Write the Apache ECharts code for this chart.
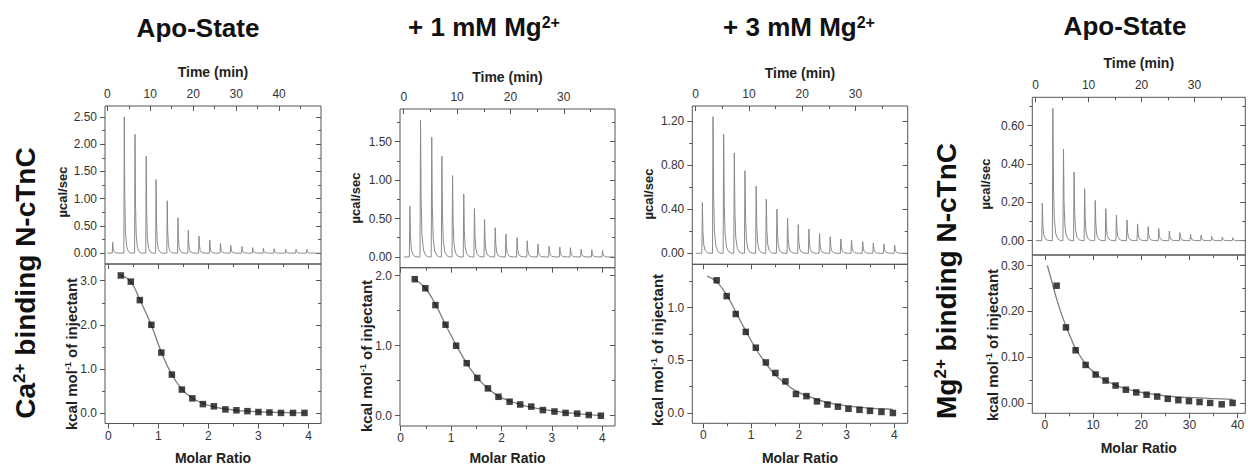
<!DOCTYPE html>
<html>
<head>
<meta charset="utf-8">
<script src="https://cdn.jsdelivr.net/npm/echarts@6/dist/echarts.min.js"></script>
<style>html,body{margin:0;padding:0;background:#fff}#c{width:1248px;height:467px}</style>
</head>
<body>
<div id="c"></div>
<script>
// ================= DATA =================
const panelTitles = ['Apo-State', '+ 1 mM Mg{s|2+}', '+ 3 mM Mg{s|2+}', 'Apo-State'];
const sideLabels = ['Ca{s|2+} binding N-cTnC', 'Mg{s|2+} binding N-cTnC'];
const rawAxisName = 'µcal/sec';
const heatAxisName = 'kcal mol{s|-1} of injectant';
const timeAxisName = 'Time (min)';
const ratioAxisName = 'Molar Ratio';

// Panel 1 : Ca2+ binding, apo state
const p1InjTime = [1.2, 3.9, 6.4, 9.0, 11.3, 13.9, 16.4, 18.8, 21.3, 23.8, 26.3, 28.7, 31.3, 33.8, 36.3, 38.8, 41.5, 43.9, 46.4];
const p1InjPeak = [0.20, 2.50, 2.18, 1.78, 1.35, 0.96, 0.65, 0.42, 0.31, 0.24, 0.18, 0.14, 0.12, 0.10, 0.09, 0.08, 0.07, 0.07, 0.07];
const p1Ratio = [0.25, 0.45, 0.63, 0.86, 1.06, 1.27, 1.47, 1.68, 1.89, 2.11, 2.34, 2.56, 2.78, 3.00, 3.22, 3.45, 3.69, 3.92];
const p1Heat  = [3.12, 2.98, 2.56, 2.00, 1.37, 0.87, 0.53, 0.33, 0.20, 0.15, 0.08, 0.06, 0.04, 0.02, 0.01, 0.00, 0.00, 0.00];
const p1FitRatio = [0.25, 0.45, 0.63, 0.86, 1.06, 1.27, 1.47, 1.68, 1.89, 2.11, 2.34, 2.56, 2.78, 3.00, 3.22, 3.45, 3.69, 3.92];
const p1FitHeat  = [3.12, 2.97, 2.57, 1.99, 1.38, 0.87, 0.54, 0.34, 0.22, 0.14, 0.09, 0.06, 0.04, 0.025, 0.015, 0.01, 0.005, 0.00];
const p1TimeTicks = [0, 10, 20, 30, 40],        p1TimeMinor = [5, 15, 25, 35, 45];
const p1PowerTicks = [0, 0.5, 1, 1.5, 2, 2.5],  p1PowerMinor = [0.25, 0.75, 1.25, 1.75, 2.25];
const p1RatioTicks = [0, 1, 2, 3, 4],           p1RatioMinor = [0.5, 1.5, 2.5, 3.5];
const p1HeatTicks = [0, 1, 2, 3],               p1HeatMinor = [0.5, 1.5, 2.5];

// Panel 2 : + 1 mM Mg2+
const p2InjTime = [1.1, 3.1, 5.2, 7.1, 9.1, 11.2, 13.2, 15.1, 17.1, 19.1, 21.2, 23.1, 25.1, 27.2, 29.2, 31.2, 33.2, 35.2, 37.2];
const p2InjPeak = [0.66, 1.78, 1.56, 1.31, 1.06, 0.82, 0.63, 0.49, 0.38, 0.30, 0.25, 0.21, 0.17, 0.14, 0.13, 0.12, 0.10, 0.095, 0.087];
const p2Ratio = [0.28, 0.49, 0.69, 0.89, 1.10, 1.31, 1.52, 1.73, 1.94, 2.16, 2.37, 2.59, 2.82, 3.05, 3.27, 3.50, 3.73, 3.97];
const p2Heat  = [1.95, 1.82, 1.58, 1.30, 1.00, 0.75, 0.54, 0.39, 0.27, 0.20, 0.16, 0.13, 0.08, 0.06, 0.04, 0.03, 0.01, 0.00];
const p2FitRatio = [0.28, 0.49, 0.69, 0.89, 1.10, 1.31, 1.52, 1.73, 1.94, 2.16, 2.37, 2.59, 2.82, 3.05, 3.27, 3.50, 3.73, 3.97];
const p2FitHeat  = [1.95, 1.82, 1.59, 1.30, 1.01, 0.75, 0.54, 0.39, 0.28, 0.21, 0.16, 0.12, 0.09, 0.065, 0.045, 0.03, 0.015, 0.005];
const p2TimeTicks = [0, 10, 20, 30],            p2TimeMinor = [5, 15, 25, 35];
const p2PowerTicks = [0, 0.5, 1, 1.5],          p2PowerMinor = [0.25, 0.75, 1.25, 1.75];
const p2RatioTicks = [0, 1, 2, 3, 4],           p2RatioMinor = [0.5, 1.5, 2.5, 3.5];
const p2HeatTicks = [0, 1, 2],                  p2HeatMinor = [0.5, 1.5];

// Panel 3 : + 3 mM Mg2+
const p3InjTime = [1.2, 3.2, 5.2, 7.2, 9.2, 11.3, 13.2, 15.2, 17.2, 19.2, 21.2, 23.2, 25.2, 27.2, 29.2, 31.3, 33.3, 35.3, 37.3];
const p3InjPeak = [0.46, 1.24, 1.08, 0.91, 0.75, 0.61, 0.49, 0.40, 0.32, 0.26, 0.22, 0.18, 0.15, 0.13, 0.12, 0.105, 0.095, 0.085, 0.075];
const p3Ratio = [0.28, 0.49, 0.68, 0.89, 1.10, 1.31, 1.51, 1.72, 1.94, 2.16, 2.38, 2.60, 2.82, 3.04, 3.27, 3.49, 3.73, 3.97];
const p3Heat  = [1.26, 1.11, 0.94, 0.77, 0.62, 0.48, 0.38, 0.30, 0.18, 0.16, 0.11, 0.08, 0.06, 0.04, 0.03, 0.02, 0.01, 0.00];
const p3FitRatio = [0.08, 0.28, 0.49, 0.68, 0.89, 1.10, 1.31, 1.51, 1.72, 1.94, 2.16, 2.38, 2.60, 2.82, 3.04, 3.27, 3.49, 3.73, 3.97];
const p3FitHeat  = [1.30, 1.245, 1.12, 0.96, 0.78, 0.61, 0.47, 0.36, 0.28, 0.21, 0.165, 0.13, 0.10, 0.08, 0.065, 0.055, 0.045, 0.04, 0.033];
const p3TimeTicks = [0, 10, 20, 30],            p3TimeMinor = [5, 15, 25, 35];
const p3PowerTicks = [0, 0.4, 0.8, 1.2],        p3PowerMinor = [0.2, 0.6, 1.0];
const p3RatioTicks = [0, 1, 2, 3, 4],           p3RatioMinor = [0.5, 1.5, 2.5, 3.5];
const p3HeatTicks = [0, 0.5, 1.0],              p3HeatMinor = [0.25, 0.75, 1.25];

// Panel 4 : Mg2+ binding, apo state
const p4InjTime = [1.2, 3.2, 5.2, 7.2, 9.2, 11.2, 13.2, 15.2, 17.2, 19.2, 21.2, 23.2, 25.2, 27.2, 29.2, 31.2, 33.2, 35.2, 37.2];
const p4InjPeak = [0.195, 0.69, 0.478, 0.357, 0.271, 0.21, 0.167, 0.134, 0.108, 0.087, 0.073, 0.063, 0.05, 0.042, 0.035, 0.028, 0.022, 0.018, 0.015];
const p4Ratio = [2.42, 4.36, 6.37, 8.44, 10.52, 12.6, 14.67, 16.8, 18.96, 21.1, 23.3, 25.5, 27.7, 29.9, 32.1, 34.3, 36.7, 38.96];
const p4Heat  = [0.256, 0.165, 0.115, 0.083, 0.062, 0.049, 0.038, 0.029, 0.023, 0.018, 0.014, 0.009, 0.006, 0.004, 0.002, 0.000, -0.003, 0.000];
const p4FitRatio = [0.5, 1.5, 2.4, 3.4, 4.4, 5.4, 6.4, 8.4, 10.5, 12.6, 14.7, 16.8, 19.0, 21.1, 23.3, 25.5, 27.7, 29.9, 32.1, 34.3, 36.7, 39.0];
const p4FitHeat  = [0.30, 0.262, 0.228, 0.195, 0.167, 0.141, 0.118, 0.086, 0.064, 0.049, 0.039, 0.031, 0.025, 0.021, 0.018, 0.015, 0.013, 0.012, 0.011, 0.010, 0.009, 0.008];
const p4TimeTicks = [0, 10, 20, 30],            p4TimeMinor = [5, 15, 25, 35];
const p4PowerTicks = [0, 0.2, 0.4, 0.6],        p4PowerMinor = [0.1, 0.3, 0.5, 0.7];
const p4RatioTicks = [0, 10, 20, 30, 40],       p4RatioMinor = [5, 15, 25, 35];
const p4HeatTicks = [0, 0.1, 0.2, 0.3],         p4HeatMinor = [0.05, 0.15, 0.25];

// ================= LAYOUT / BUILD =================
const FONT = 'Liberation Sans, Arial, sans-serif';
const BOX = '#555';

const panels = [
  { time: p1InjTime, peak: p1InjPeak, ratio: p1Ratio, heat: p1Heat, fitR: p1FitRatio, fitH: p1FitHeat,
    tT: p1TimeTicks, tM: p1TimeMinor, pT: p1PowerTicks, pM: p1PowerMinor, rT: p1RatioTicks, rM: p1RatioMinor, hT: p1HeatTicks, hM: p1HeatMinor,
    pDec: 2, hDec: 1, tEnd: 49.5,
    box: { left: 105, width: 216, top: 106, mid: 264, bottom: 423.5 },
    rng: { t: [-0.54, 49.75], p: [-0.2, 2.7], r: [-0.066, 4.25], h: [-0.24, 3.38] },
    title: [198, 28], rawName: [62, 192], heatName: [71, 354], tGap: 27, rGap: 27.5 },
  { time: p2InjTime, peak: p2InjPeak, ratio: p2Ratio, heat: p2Heat, fitR: p2FitRatio, fitH: p2FitHeat,
    tT: p2TimeTicks, tM: p2TimeMinor, pT: p2PowerTicks, pM: p2PowerMinor, rT: p2RatioTicks, rM: p2RatioMinor, hT: p2HeatTicks, hM: p2HeatMinor,
    pDec: 2, hDec: 1, tEnd: 39.4,
    box: { left: 400, width: 215, top: 109, mid: 267.7, bottom: 426 },
    rng: { t: [-0.7, 39.6], p: [-0.14, 1.926], r: [-0.013, 4.25], h: [-0.147, 2.114] },
    title: [484, 27], rawName: [355, 198], heatName: [366, 356], tGap: 25, rGap: 25 },
  { time: p3InjTime, peak: p3InjPeak, ratio: p3Ratio, heat: p3Heat, fitR: p3FitRatio, fitH: p3FitHeat,
    tT: p3TimeTicks, tM: p3TimeMinor, pT: p3PowerTicks, pM: p3PowerMinor, rT: p3RatioTicks, rM: p3RatioMinor, hT: p3HeatTicks, hM: p3HeatMinor,
    pDec: 2, hDec: 1, tEnd: 39.6,
    box: { left: 692.3, width: 215.4, top: 106, mid: 264.3, bottom: 423.3 },
    rng: { t: [-0.64, 39.8], p: [-0.1, 1.336], r: [-0.23, 4.28], h: [-0.098, 1.412] },
    title: [799, 27], rawName: [648, 194], heatName: [657, 350], tGap: 26, rGap: 27.5 },
  { time: p4InjTime, peak: p4InjPeak, ratio: p4Ratio, heat: p4Heat, fitR: p4FitRatio, fitH: p4FitHeat,
    tT: p4TimeTicks, tM: p4TimeMinor, pT: p4PowerTicks, pM: p4PowerMinor, rT: p4RatioTicks, rM: p4RatioMinor, hT: p4HeatTicks, hM: p4HeatMinor,
    pDec: 2, hDec: 2, tEnd: 39.4,
    box: { left: 1032.3, width: 213, top: 97.3, mid: 255, bottom: 413.3 },
    rng: { t: [-0.64, 39.6], p: [-0.075, 0.748], r: [-2.63, 41.6], h: [-0.0226, 0.323] },
    title: [1125, 26], rawName: [985, 184], heatName: [992, 345], tGap: 27, rGap: 28 }
];

// raw thermogram trace: each injection drawn as a sharp spike from its read peak value
function rawTrace(times, peaks, tEnd) {
  const d = [[0, 0]];
  for (let i = 0; i < times.length; i++) {
    const t = times[i], h = peaks[i];
    d.push([t - 0.05, 0], [t + 0.05, h], [t + 0.16, h * 0.42], [t + 0.32, h * 0.16],
           [t + 0.6, h * 0.05], [t + 1.0, h * 0.012], [t + 1.5, 0]);
  }
  d.push([tEnd, 0]);
  return d;
}
function pairs(xs, ys) { return xs.map((x, i) => [x, ys[i]]); }

const grids = [], xAxes = [], yAxes = [], series = [], graphics = [];
const labelBase = { color: '#333', fontSize: 12, fontFamily: FONT };
const nameStyle = { fontFamily: FONT, fontSize: 14, fontWeight: 'bold', color: '#222' };

function axisPair(list, gi, pos, rng, majors, minors, inside, label, name) {
  const base = { type: 'value', gridIndex: gi, position: pos, min: rng[0], max: rng[1],
    axisLine: { show: false, onZero: false }, splitLine: { show: false }, splitArea: { show: false } };
  const idx = list.length;
  const major = Object.assign({}, base, {
    axisTick: { show: true, inside: inside, length: 5, customValues: majors, lineStyle: { color: BOX, width: 1 } },
    axisLabel: label ? Object.assign({ show: true, customValues: majors }, labelBase, label) : { show: false }
  });
  if (name) {
    Object.assign(major, { name: name.text, nameLocation: 'middle', nameGap: name.gap, nameTextStyle: nameStyle });
  }
  list.push(major);
  list.push(Object.assign({}, base, {
    axisTick: { show: true, inside: inside, length: 3, customValues: minors, lineStyle: { color: BOX, width: 1 } },
    axisLabel: { show: false }
  }));
  return idx;
}

function gtext(x, y, text, size, rot, color) {
  return { type: 'text', x: x, y: y, rotation: rot || 0, silent: true, z: 100,
    style: { text: text, fontFamily: FONT, fontSize: size, fontWeight: 'bold', fill: color || '#111',
      align: 'center', verticalAlign: 'middle', textAlign: 'center', textVerticalAlign: 'middle',
      rich: { s: { fontFamily: FONT, fontSize: Math.round(size * 0.62), fontWeight: 'bold', fill: color || '#111', verticalAlign: 'top' } } } };
}

panels.forEach((P, k) => {
  const b = P.box;
  const gTop = grids.length;
  grids.push({ left: b.left, top: b.top, width: b.width, height: b.mid - b.top, show: true,
    borderColor: BOX, borderWidth: 1, backgroundColor: 'transparent', containLabel: false, outerBoundsMode: 'none' });
  const gBot = grids.length;
  grids.push({ left: b.left, top: b.mid, width: b.width, height: b.bottom - b.mid, show: true,
    borderColor: BOX, borderWidth: 1, backgroundColor: 'transparent', containLabel: false, outerBoundsMode: 'none' });

  // upper panel axes
  const xt = axisPair(xAxes, gTop, 'top', P.rng.t, P.tT, P.tM, true, { margin: 6, formatter: v => String(v) }, { text: timeAxisName, gap: P.tGap });
  const yl = axisPair(yAxes, gTop, 'left', P.rng.p, P.pT, P.pM, false, { margin: 8, formatter: v => v.toFixed(P.pDec) });
  axisPair(yAxes, gTop, 'right', P.rng.p, P.pT, P.pM, true, null);

  // lower panel axes
  const xb = axisPair(xAxes, gBot, 'bottom', P.rng.r, P.rT, P.rM, false, { margin: 6, formatter: v => String(v) }, { text: ratioAxisName, gap: P.rGap });
  axisPair(xAxes, gBot, 'top', P.rng.r, P.rT, P.rM, true, null);
  const yb = axisPair(yAxes, gBot, 'left', P.rng.h, P.hT, P.hM, false, { margin: 8, formatter: v => v.toFixed(P.hDec) });
  axisPair(yAxes, gBot, 'right', P.rng.h, P.hT, P.hM, true, null);

  series.push({ type: 'line', xAxisIndex: xt, yAxisIndex: yl, data: rawTrace(P.time, P.peak, P.tEnd),
    symbol: 'none', lineStyle: { color: '#8a8a8a', width: 1 }, animation: false, z: 2 });
  series.push({ type: 'line', xAxisIndex: xb, yAxisIndex: yb, data: pairs(P.fitR, P.fitH), smooth: true,
    symbol: 'none', lineStyle: { color: '#7d7d7d', width: 1.3 }, animation: false, z: 2 });
  series.push({ type: 'scatter', xAxisIndex: xb, yAxisIndex: yb, data: pairs(P.ratio, P.heat),
    symbol: 'rect', symbolSize: 6.5, itemStyle: { color: '#111' }, animation: false, z: 3 });

  graphics.push(gtext(P.title[0], P.title[1], panelTitles[k], 26, 0, '#111'));
  graphics.push(gtext(P.rawName[0], P.rawName[1], rawAxisName, 13, Math.PI / 2, '#222'));
  graphics.push(gtext(P.heatName[0], P.heatName[1], heatAxisName, 15, Math.PI / 2, '#222'));
});

graphics.push(gtext(25, 283, sideLabels[0], 28, Math.PI / 2, '#111'));
graphics.push(gtext(946, 281, sideLabels[1], 28, Math.PI / 2, '#111'));

const chart = echarts.init(document.getElementById('c'), null, { renderer: 'svg', width: 1248, height: 467 });
chart.setOption({
  backgroundColor: '#fff',
  animation: false,
  grid: grids,
  xAxis: xAxes,
  yAxis: yAxes,
  series: series,
  graphic: { elements: graphics }
});
</script>
</body>
</html>
